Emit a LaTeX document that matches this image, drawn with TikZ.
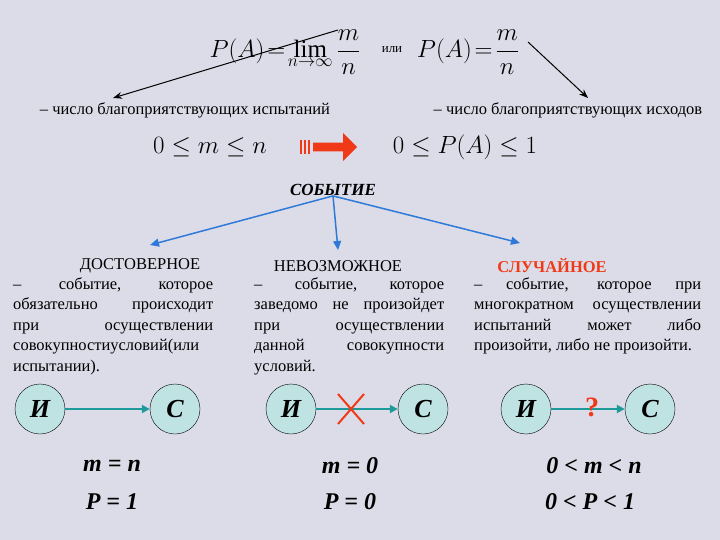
\documentclass[tikz,border=0pt]{standalone}
\usepackage{fontspec}
\setmainfont{Liberation Serif}
\usetikzlibrary{arrows.meta,shapes.arrows}
\definecolor{bg}{HTML}{DCDCE8}
\definecolor{teal}{HTML}{1E9A9A}
\definecolor{circ}{HTML}{BFE3E3}
\definecolor{ablue}{HTML}{2F7AD8}
\definecolor{ared}{HTML}{F03A17}
\tikzset{
 circ/.style={circle,draw=black,fill=circ,minimum size=50pt,inner sep=0pt,font=\fontsize{26}{26}\selectfont\bfseries\itshape},
 para/.style={anchor=north west,text width=200pt,align=justify,font=\fontsize{16.5}{20.5}\selectfont,inner sep=0pt},
 ttl/.style={font=\fontsize{16.5}{17}\selectfont,inner sep=0pt},
 flow/.style={teal,line width=2.5pt,-{Triangle[length=8pt,width=8pt]}},
 bl/.style={ablue,line width=1.5pt,-{Triangle[length=9pt,width=8pt]}},
 bk/.style={black,line width=1pt,-{Stealth[length=9pt]}},
 eq/.style={font=\fontsize{24}{24}\selectfont\bfseries\itshape,inner sep=0pt},
 fm/.style={inner sep=0pt,font=\fontsize{25}{25}\selectfont},
}
\begin{document}
\begin{tikzpicture}[x=1pt,y=-1pt]
\fill[bg] (0,0) rectangle (720,540);
\useasboundingbox (0,0) rectangle (720,540);
% formulas
\node[fm] (f1) at (285,52) {$\displaystyle P\big(A\big)\!=\!\lim_{n\to\infty}\frac{m}{n}$};
\node[ttl,font=\fontsize{13}{13}\selectfont] (ili) at (392,50) {или};
\node[fm] (f2) at (468,52) {$\displaystyle P\big(A\big)\!=\!\frac{m}{n}$};
\node[ttl] (t1) at (185,110) {– число благоприятствующих испытаний};
\node[ttl] (t2) at (568,110) {– число благоприятствующих исходов};
\coordinate (m1) at (338,30);
\coordinate (m2) at (528,42);
\draw[bk] (m1) -- (113,98);
\draw[bk] (m2) -- (588,98);
\node[fm] (ie1) at (210,147) {$0\le m\le n$};
\node[fm] (ie2) at (465,147) {$0\le P\big(A\big)\le 1$};
% red arrow
\node[single arrow,fill=ared,draw=none,minimum height=44pt,minimum width=28pt,single arrow head extend=5pt,inner sep=2pt] (ra) at (333,147) {};
\foreach \x in {300,304,308} \fill[ared] (\x,140) rectangle ++(2,14);
\node[ttl,font=\fontsize{17}{17}\selectfont\bfseries\itshape] (ev) at (333,190) {СОБЫТИЕ};
\coordinate (e1) at (150,245);
\coordinate (e2) at (338,250);
\coordinate (e3) at (520,243);
\draw[bl] (ev.south) -- (e1);
\draw[bl] (ev.south) -- (e2);
\draw[bl] (ev.south) -- (e3);
% columns
\node[ttl] (h1) at (140,266) {ДОСТОВЕРНОЕ};
\node[para] (p1) at (13,277) {– \hfill событие, \hfill которое обязательно происходит при осуществлении совокупностиусловий(или испытании).};
\node[ttl] (h2) at (338,266) {НЕВОЗМОЖНОЕ};
\node[para,text width=190pt] (p2) at (254,277) {– \hfill событие, \hfill которое заведомо не произойдет при осуществлении данной совокупности условий.};
\node[ttl,text=ared,font=\fontsize{16.5}{17}\selectfont\bfseries] (h3) at (552,266) {СЛУЧАЙНОЕ};
\node[para,text width=227pt] (p3) at (474,277) {– событие, которое при многократном осуществлении испытаний может либо произойти, либо не произойти.};
% circles
\node[circ] (i1) at (40,409) {И};
\node[circ] (c1) at (175,409) {С};
\draw[flow] (i1) -- (c1);
\node[circ] (i2) at (291,409) {И};
\node[circ] (c2) at (423,409) {С};
\draw[flow] (i2) -- (c2);
\draw[ared,line width=2pt] (338,394) -- (364,424) (364,394) -- (338,424);
\node[circ] (i3) at (526,409) {И};
\node[circ] (c3) at (650,409) {С};
\draw[flow] (i3) -- (c3);
\node[font=\fontsize{28}{28}\selectfont\bfseries,text=ared,inner sep=0pt] (q) at (592,407) {?};
% equations
\node[eq] (a1) at (112,466) {m = n};
\node[eq] (b1) at (112,502) {P = 1};
\node[eq] (a2) at (350,466) {m = 0};
\node[eq] (b2) at (350,502) {P = 0};
\node[eq] (a3) at (594,466) {0 < m < n};
\node[eq] (b3) at (590,502) {0 < P < 1};
\end{tikzpicture}
\end{document}
